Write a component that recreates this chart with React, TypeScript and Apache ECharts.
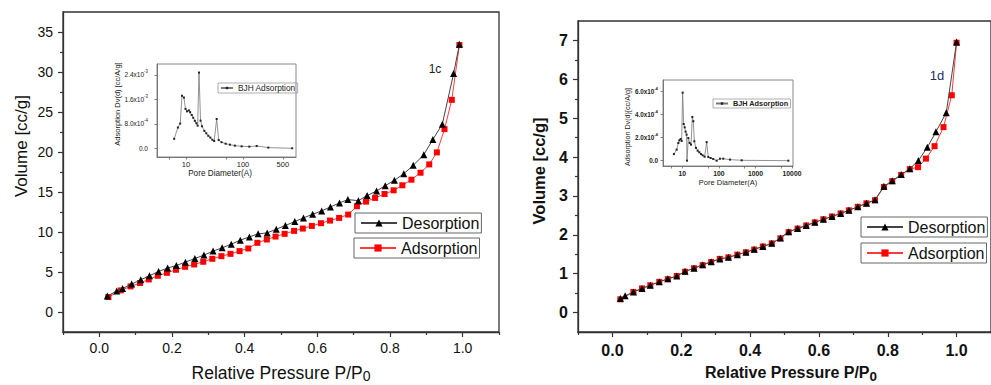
import React, { useEffect, useRef } from "react";
import * as echarts from "echarts";

const FONT = '"Liberation Sans", Arial, Helvetica, sans-serif';

// ---------- Panel 1c : N2 isotherm ----------
const cDesP = [0.022, 0.048, 0.064, 0.089, 0.114, 0.138, 0.163, 0.188, 0.212, 0.237, 0.263, 0.288, 0.313, 0.338, 0.363, 0.388, 0.413, 0.437, 0.462, 0.487, 0.512, 0.538, 0.562, 0.587, 0.612, 0.636, 0.661, 0.684, 0.713, 0.737, 0.763, 0.787, 0.812, 0.838, 0.864, 0.893, 0.918, 0.944, 0.975, 0.991];
const cDesV = [2.0, 2.62, 2.95, 3.49, 4.03, 4.53, 5.07, 5.49, 5.82, 6.23, 6.69, 7.11, 7.61, 8.02, 8.48, 8.98, 9.39, 9.77, 9.89, 10.35, 10.81, 11.31, 11.76, 12.22, 12.64, 13.13, 13.63, 14.05, 13.92, 14.55, 15.13, 15.79, 16.46, 17.29, 18.33, 19.66, 21.57, 23.48, 29.8, 33.46];
const cAdsP = [0.025, 0.059, 0.086, 0.112, 0.136, 0.161, 0.186, 0.211, 0.236, 0.261, 0.286, 0.311, 0.336, 0.361, 0.386, 0.41, 0.435, 0.461, 0.485, 0.51, 0.536, 0.56, 0.585, 0.61, 0.635, 0.66, 0.685, 0.709, 0.734, 0.759, 0.785, 0.81, 0.834, 0.859, 0.884, 0.908, 0.929, 0.95, 0.97, 0.991];
const cAdsV = [1.87, 2.7, 3.2, 3.62, 4.07, 4.53, 4.9, 5.28, 5.65, 5.94, 6.28, 6.65, 6.98, 7.27, 7.61, 7.94, 8.65, 9.06, 9.43, 9.77, 10.14, 10.43, 10.76, 11.1, 11.43, 11.76, 12.18, 13.22, 13.8, 14.26, 14.75, 15.21, 15.84, 16.54, 17.41, 18.45, 19.95, 22.86, 26.52, 33.37];

// ---------- Panel 1d : N2 isotherm ----------
const dDesP = [0.023, 0.037, 0.061, 0.086, 0.11, 0.136, 0.161, 0.187, 0.211, 0.237, 0.262, 0.287, 0.312, 0.337, 0.363, 0.388, 0.412, 0.437, 0.463, 0.488, 0.512, 0.538, 0.563, 0.588, 0.613, 0.638, 0.663, 0.687, 0.713, 0.738, 0.763, 0.789, 0.813, 0.839, 0.864, 0.889, 0.915, 0.94, 0.97, 1.0];
const dDesV = [0.36, 0.43, 0.53, 0.62, 0.7, 0.79, 0.87, 0.94, 1.06, 1.14, 1.23, 1.31, 1.38, 1.42, 1.49, 1.55, 1.63, 1.7, 1.78, 1.92, 2.08, 2.16, 2.24, 2.32, 2.4, 2.47, 2.55, 2.63, 2.72, 2.81, 2.9, 3.25, 3.39, 3.55, 3.7, 3.91, 4.25, 4.65, 5.14, 6.96];
const dAdsP = [0.023, 0.061, 0.086, 0.11, 0.136, 0.161, 0.187, 0.211, 0.237, 0.262, 0.287, 0.312, 0.337, 0.363, 0.388, 0.412, 0.437, 0.463, 0.488, 0.512, 0.538, 0.563, 0.588, 0.613, 0.638, 0.663, 0.687, 0.713, 0.738, 0.763, 0.789, 0.813, 0.839, 0.864, 0.888, 0.911, 0.936, 0.962, 0.986, 1.0];
const dAdsV = [0.34, 0.53, 0.62, 0.7, 0.79, 0.86, 0.94, 1.05, 1.14, 1.22, 1.3, 1.38, 1.42, 1.49, 1.55, 1.62, 1.7, 1.78, 1.91, 2.07, 2.16, 2.24, 2.32, 2.4, 2.47, 2.55, 2.63, 2.72, 2.81, 2.89, 3.23, 3.38, 3.54, 3.69, 3.74, 3.96, 4.28, 4.77, 5.59, 6.94];

// ---------- Insets : BJH pore size distribution ----------
const cBjhD = [6.2, 7.2, 7.9, 8.5, 9.2, 9.8, 10.4, 11.2, 11.8, 12.6, 13.4, 14.3, 15.2, 16.0, 16.9, 18.0, 19.1, 21.0, 22.7, 24.6, 26.7, 29.0, 31.2, 34.5, 37.4, 42.0, 49.6, 59.0, 72.0, 94.6, 129, 174, 278, 730];
const cBjhDv = [3.1e-4, 6.8e-4, 8.1e-4, 1.72e-3, 1.66e-3, 1.29e-3, 1.21e-3, 1.24e-3, 1.18e-3, 1.09e-3, 1.0e-3, 9.0e-4, 8.2e-4, 7.4e-4, 2.48e-3, 9.05e-4, 7.2e-4, 5.7e-4, 4.9e-4, 4.1e-4, 3.5e-4, 2.8e-4, 2.4e-4, 9.6e-4, 2.7e-4, 2.0e-4, 1.5e-4, 1.2e-4, 8.7e-5, 6.5e-5, 5.5e-5, 7.6e-5, 2.2e-5, 0];
const dBjhD = [5.9, 7.0, 7.8, 8.3, 9.0, 9.6, 10.2, 10.9, 11.6, 12.3, 13.1, 13.4, 14.6, 15.9, 17.3, 18.8, 20.0, 21.3, 23.6, 26.3, 29.2, 32.4, 36.0, 40.8, 46.3, 51.3, 59.5, 70, 86.7, 107, 132, 201, 421, 7950];
const dBjhDv = [5.7e-5, 9.5e-5, 1.52e-4, 1.75e-4, 1.87e-4, 1.7e-4, 5.86e-4, 3.16e-4, 2.87e-4, 2.5e-4, 2.24e-4, 0, 1.95e-4, 1.52e-4, 1.38e-4, 3.76e-4, 3.4e-4, 1.67e-4, 1.1e-4, 8.6e-5, 7.2e-5, 5.7e-5, 4.6e-5, 3.4e-5, 1.6e-4, 3.2e-5, 2.3e-5, 1.4e-5, 0, 1.7e-5, 1.7e-5, 9e-6, 3e-6, 0];

// ---------- Tick values ----------
const xMajor = [0, 0.2, 0.4, 0.6, 0.8, 1.0];
const xMinor = [-0.1, 0.1, 0.3, 0.5, 0.7, 0.9, 1.1];
const cYMajor = [0, 5, 10, 15, 20, 25, 30, 35];
const cYMinor = [2.5, 7.5, 12.5, 17.5, 22.5, 27.5, 32.5];
const dYMajor = [0, 1, 2, 3, 4, 5, 6, 7];
const dYMinor = [0.5, 1.5, 2.5, 3.5, 4.5, 5.5, 6.5];
const cInsetXLabels = [10, 100, 500];
const cInsetXTicks = [5, 10, 50, 100, 500];
const dInsetXLabels = [10, 100, 1000, 10000];
const dInsetXTicks = [5, 10, 50, 100, 500, 1000, 5000, 10000];
const cInsetYTicks = [0, 8e-4, 1.6e-3, 2.4e-3];
const dInsetYTicks = [0, 2e-4, 4e-4, 6e-4];

const zip = (xs: number[], ys: number[]) => xs.map((x, i) => [x, ys[i]]);
const logZip = (xs: number[], ys: number[]) => xs.map((x, i) => [Math.log10(x), ys[i]]);
const lg = (a: number[]) => a.map((v) => Math.log10(v));

const sciLabel = (v: number) => {
  if (Math.abs(v) < 1e-12) return "{m|0.0}";
  const e = Math.floor(Math.log10(v) + 1e-9);
  const m = (v / Math.pow(10, e)).toFixed(1);
  return `{m|${m}x10}{s|${e}}`;
};

const AX = "#333";

function mainAxes(dim: "x" | "y", gridIndex: number, min: number, max: number, major: number[], minor: number[], fmt: (v: number) => string, bold: boolean, fontSize: number, margin: number) {
  const pos = dim === "x" ? "bottom" : "left";
  return [
    {
      type: "value", gridIndex, min, max, position: pos,
      axisLine: { show: true, onZero: false, lineStyle: { color: AX, width: 1.3 } },
      axisTick: { show: true, customValues: major, length: 5, lineStyle: { color: AX, width: 1.2 } },
      axisLabel: { show: true, customValues: major, formatter: fmt, margin, fontSize, fontFamily: FONT, fontWeight: bold ? "bold" : "normal", color: "#111" },
      splitLine: { show: false },
    },
    {
      type: "value", gridIndex, min, max, position: pos,
      axisLine: { show: false, onZero: false },
      axisTick: { show: true, customValues: minor, length: 3, lineStyle: { color: AX, width: 1.2 } },
      axisLabel: { show: false },
      splitLine: { show: false },
    },
  ];
}

function insetAxes(gridIndex: number, xmin: number, xmax: number, xticks: number[], xlabels: number[], ymin: number, ymax: number, yticks: number[], bold: boolean, xFont: number, yFont: number, xMargin: number, yMargin: number) {
  const w = bold ? "bold" : "normal";
  const x = {
    type: "value", gridIndex, min: xmin, max: xmax, position: "bottom",
    axisLine: { show: true, onZero: false, lineStyle: { color: "#777", width: 1 } },
    axisTick: { show: true, customValues: lg(xticks), length: 2.5, lineStyle: { color: "#666", width: 0.8 } },
    axisLabel: { show: true, customValues: lg(xlabels), formatter: (v: number) => String(Math.round(Math.pow(10, v))), margin: xMargin, fontSize: xFont, fontFamily: FONT, fontWeight: w, color: "#222" },
    splitLine: { show: false },
  };
  const y = {
    type: "value", gridIndex, min: ymin, max: ymax, position: "left",
    axisLine: { show: true, onZero: false, lineStyle: { color: "#777", width: 1 } },
    axisTick: { show: true, customValues: yticks, length: 2.5, lineStyle: { color: "#666", width: 0.8 } },
    axisLabel: {
      show: true, customValues: yticks, formatter: sciLabel, margin: yMargin, color: "#222",
      rich: {
        m: { fontSize: yFont, fontFamily: FONT, fontWeight: w, color: "#222", lineHeight: 10 },
        s: { fontSize: yFont * 0.68, fontFamily: FONT, fontWeight: w, color: "#222", lineHeight: 5, verticalAlign: "top" },
      },
    },
    splitLine: { show: false },
  };
  return { x, y };
}

const fmt1 = (v: number) => v.toFixed(1);
const fmt0 = (v: number) => String(Math.round(v));

const cMainX = mainAxes("x", 0, -0.1, 1.1, xMajor, xMinor, fmt1, false, 14, 9);
const cMainY = mainAxes("y", 0, -2.5, 37.5, cYMajor, cYMinor, fmt0, false, 14, 10);
const dMainX = mainAxes("x", 1, -0.1, 1.1, xMajor, xMinor, fmt1, true, 16, 10);
const dMainY = mainAxes("y", 1, -0.5, 7.5, dYMajor, dYMinor, fmt0, true, 16, 10);
const cIn = insetAxes(2, 0.491, 2.93, cInsetXTicks, cInsetXLabels, -2.85e-4, 2.76e-3, cInsetYTicks, false, 7.5, 6.5, 3, 9);
const dIn = insetAxes(3, 0.472, 4.027, dInsetXTicks, dInsetXLabels, -4.6e-5, 6.95e-4, dInsetYTicks, true, 6.8, 6.3, 4, 5);

const desStyle = (size: number) => ({
  type: "line", symbol: "triangle", symbolSize: size, showSymbol: true,
  lineStyle: { color: "#444", width: 1 }, itemStyle: { color: "#000" }, z: 4,
});
const adsStyle = (size: number) => ({
  type: "line", symbol: "rect", symbolSize: size, showSymbol: true,
  lineStyle: { color: "#ff3a3a", width: 1 }, itemStyle: { color: "#ff0000" }, z: 3,
});
const bjhStyle = {
  type: "line", symbol: "rect", symbolSize: 2, showSymbol: true,
  lineStyle: { color: "#777", width: 0.8 }, itemStyle: { color: "#222" }, z: 3,
};

const legendBox = (name: string, left: number, top: number, bold = false) => ({
  data: [name], left, top, orient: "horizontal", selectedMode: false,
  itemWidth: 36, itemHeight: 9, padding: [2, 2, 2, 5],
  borderColor: "#666", borderWidth: 1, borderRadius: 0, backgroundColor: "#fff",
  textStyle: { fontSize: 16, fontFamily: FONT, color: "#111", fontWeight: bold ? "bold" : "normal" },
});

const titleRich = (bold: boolean, size: number, sub: number) => ({
  a: { fontSize: size, fontFamily: FONT, fontWeight: bold ? "bold" : "normal", fill: "#111", lineHeight: 20, verticalAlign: "top" },
  b: { fontSize: sub, fontFamily: FONT, fontWeight: bold ? "bold" : "normal", fill: "#111", lineHeight: 20, padding: [5, 0, 0, 0], verticalAlign: "top" },
});

const option: any = {
  animation: false,
  backgroundColor: "#fff",
  textStyle: { fontFamily: FONT },
  grid: [
    { left: 63, top: 12, width: 436, height: 320, show: true, borderColor: AX, borderWidth: 1.3, backgroundColor: "transparent" },
    { left: 578, top: 21, width: 420, height: 311, show: true, borderColor: AX, borderWidth: 1.3, backgroundColor: "transparent" },
    { left: 157, top: 64, width: 139, height: 93, show: true, borderColor: "#888", borderWidth: 1, backgroundColor: "#fff" },
    { left: 663, top: 80, width: 130, height: 86, show: true, borderColor: "#888", borderWidth: 1, backgroundColor: "#fff" },
  ],
  xAxis: [cMainX[0], cMainX[1], dMainX[0], dMainX[1], cIn.x, dIn.x],
  yAxis: [cMainY[0], cMainY[1], dMainY[0], dMainY[1], cIn.y, dIn.y],
  legend: [
    legendBox("Desorption", 355, 213),
    legendBox("Adsorption", 354, 238),
    legendBox("Desorption", 861, 217),
    legendBox("Adsorption", 861, 243),
    {
      data: ["BJH Adsorption"], left: 218, top: 83, selectedMode: false,
      itemWidth: 12, itemHeight: 3, padding: [1, 2, 1, 2], borderColor: "#999", borderWidth: 0.8,
      textStyle: { fontSize: 8.3, fontFamily: FONT, color: "#222" },
    },
    {
      data: ["BJH Adsorption"], left: 713, top: 99, selectedMode: false,
      itemWidth: 12, itemHeight: 3, padding: [1, 2, 1, 2], borderColor: "#999", borderWidth: 0.8,
      textStyle: { fontSize: 7.3, fontFamily: FONT, color: "#222", fontWeight: "bold" },
    },
  ],
  series: [
    { ...adsStyle(6), name: "Adsorption", xAxisIndex: 0, yAxisIndex: 0, data: zip(cAdsP, cAdsV) },
    { ...desStyle(7), name: "Desorption", xAxisIndex: 0, yAxisIndex: 0, data: zip(cDesP, cDesV) },
    { ...adsStyle(6), name: "Adsorption", xAxisIndex: 2, yAxisIndex: 2, data: zip(dAdsP, dAdsV) },
    { ...desStyle(7), name: "Desorption", xAxisIndex: 2, yAxisIndex: 2, data: zip(dDesP, dDesV) },
    { ...bjhStyle, name: "BJH Adsorption", xAxisIndex: 4, yAxisIndex: 4, data: logZip(cBjhD, cBjhDv) },
    { ...bjhStyle, name: "BJH Adsorption", xAxisIndex: 5, yAxisIndex: 5, data: logZip(dBjhD, dBjhDv) },
  ],
  graphic: [
    { type: "text", x: 21, y: 146, rotation: Math.PI / 2, style: { text: "Volume [cc/g]", fontSize: 17, fontFamily: FONT, fill: "#111", align: "center", verticalAlign: "middle" } },
    { type: "text", x: 281, y: 364, style: { text: "{a|Relative Pressure P/P}{b|0}", rich: titleRich(false, 17.5, 14), align: "center", verticalAlign: "top" } },
    { type: "text", x: 539, y: 171, rotation: Math.PI / 2, style: { text: "Volume [cc/g]", fontSize: 16.5, fontWeight: "bold", fontFamily: FONT, fill: "#111", align: "center", verticalAlign: "middle" } },
    { type: "text", x: 791, y: 364, style: { text: "{a|Relative Pressure P/P}{b|0}", rich: titleRich(true, 16, 13.5), align: "center", verticalAlign: "top" } },
    { type: "text", x: 117, y: 104, rotation: Math.PI / 2, style: { text: "Adsorption Dv(d) [cc/A/g]", fontSize: 7.5, fontFamily: FONT, fill: "#222", align: "center", verticalAlign: "middle" } },
    { type: "text", x: 220, y: 173, style: { text: "Pore Diameter(A)", fontSize: 8.2, fontFamily: FONT, fill: "#222", align: "center", verticalAlign: "middle" } },
    { type: "text", x: 627, y: 127, rotation: Math.PI / 2, style: { text: "Adsorption Dv(d)[cc/A/g]", fontSize: 7.2, fontFamily: FONT, fill: "#222", align: "center", verticalAlign: "middle" } },
    { type: "text", x: 728, y: 182, style: { text: "Pore Diameter(A)", fontSize: 7.5, fontFamily: FONT, fill: "#222", align: "center", verticalAlign: "middle" } },
    { type: "text", x: 435, y: 69, style: { text: "1c", fontSize: 12, fontFamily: FONT, fill: "#222", align: "center", verticalAlign: "middle" } },
    { type: "text", x: 937, y: 75, style: { text: "1d", fontSize: 13, fontFamily: FONT, fill: "#2b2b66", align: "center", verticalAlign: "middle" } },
  ],
};

export default function App() {
  const ref = useRef<HTMLDivElement>(null);
  useEffect(() => {
    if (!ref.current) return;
    const chart = echarts.init(ref.current, undefined, { renderer: "svg" });
    chart.setOption(option);
    return () => chart.dispose();
  }, []);
  return <div ref={ref} style={{ position: "fixed", left: 0, top: 0, width: 991, height: 385, background: "#fff" }} />;
}
